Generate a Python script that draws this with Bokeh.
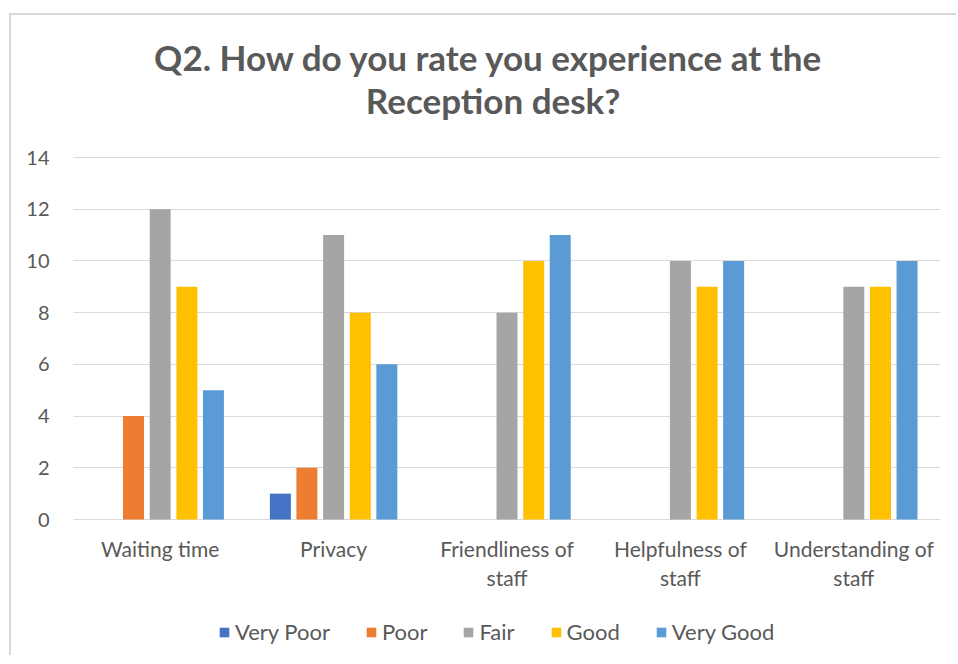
from bokeh.plotting import figure
from bokeh.models import (ColumnDataSource, FactorRange, Legend, LegendItem,
                          FixedTicker, Range1d)
from bokeh.core.properties import value
from bokeh.transform import dodge
from bokeh.embed import file_html
from bokeh.resources import INLINE

title_lines = ["Q2.  How do you rate you experience at the", "Reception desk?"]
categories = ["Waiting time", "Privacy", "Friendliness of\nstaff", "Helpfulness of\nstaff", "Understanding of\nstaff"]
very_poor = [0, 1, 0, 0, 0]
poor = [4, 2, 0, 0, 0]
fair = [12, 11, 8, 10, 9]
good = [9, 8, 10, 9, 9]
very_good = [5, 6, 11, 10, 10]
y_ticks = [0, 2, 4, 6, 8, 10, 12, 14]

series_names = ["Very Poor", "Poor", "Fair", "Good", "Very Good"]
series_cols = ["very_poor", "poor", "fair", "good", "very_good"]
colors = ["#4472C4", "#ED7D31", "#A5A5A5", "#FFC000", "#5B9BD5"]
offsets = [-0.307, -0.154, 0.0, 0.154, 0.307]

src = ColumnDataSource(dict(cat=categories, very_poor=very_poor, poor=poor, fair=fair,
                            good=good, very_good=very_good))

FONT = "Lato"
TXT = "#595959"

# vertical layout: 14 units -> 362 px; frame extends above/below the value area
PX = 362 / 14.0
y_top = (519 - 15) / PX
y_bot = -(655 - 519) / PX

p = figure(x_range=FactorRange(*categories, range_padding=0), y_range=Range1d(y_bot, y_top),
           frame_width=867, frame_height=640, output_backend="svg", toolbar_location=None,
           min_border_left=62, min_border_right=16, min_border_top=0, min_border_bottom=0,
           styles={"border-top": "2px solid #D9D9D9", "border-left": "2px solid #D9D9D9",
                   "margin-left": "9px", "margin-top": "13px"})
p.outline_line_color = None
p.background_fill_color = "white"
p.xaxis.visible = False

renderers = []
for col, name, c, off in zip(series_cols, series_names, colors, offsets):
    r = p.vbar(x=dodge("cat", off, range=p.x_range), top=col, width=0.121, source=src,
               fill_color=c, line_color=None)
    renderers.append((name, r))

# title (two centered lines)
p.text(x=[2.42, 2.42], y=[(519 - 56) / PX, (519 - 99) / PX], text=title_lines,
       text_font=value(FONT), text_font_size="35px", text_font_style="bold",
       text_color=TXT, text_align="center", text_baseline="middle")

# category labels
p.text(x="cat", y=-16 / PX, text="cat", source=src,
       text_font=value(FONT), text_font_size="21px", text_color=TXT,
       text_align="center", text_baseline="top", text_line_height=1.18)

p.xgrid.grid_line_color = None
p.ygrid.grid_line_color = "#D9D9D9"
p.ygrid.grid_line_width = 1
p.yaxis.ticker = FixedTicker(ticks=y_ticks)
p.yaxis.axis_line_color = None
p.yaxis.major_tick_line_color = None
p.yaxis.minor_tick_line_color = None
p.yaxis.major_label_text_font = FONT
p.yaxis.major_label_text_font_size = "20px"
p.yaxis.major_label_text_color = TXT
p.yaxis.major_label_standoff = 18

legend = Legend(items=[LegendItem(label=n, renderers=[r]) for n, r in renderers],
                orientation="horizontal", location=(145, 10),
                label_text_font=FONT, label_text_font_size="22px", label_text_color=TXT,
                glyph_width=12, glyph_height=12, spacing=35, label_standoff=5,
                border_line_color=None, background_fill_alpha=0, margin=0, padding=0)
p.add_layout(legend, "center")

open("out.html", "w").write(file_html(p, INLINE))
